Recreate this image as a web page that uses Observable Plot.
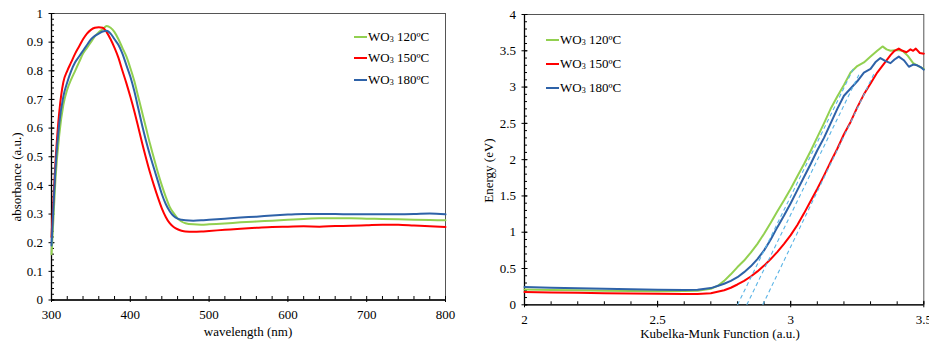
<!DOCTYPE html>
<html><head><meta charset="utf-8">
<script src="https://cdn.jsdelivr.net/npm/d3@7"></script>
<script src="https://cdn.jsdelivr.net/npm/@observablehq/plot@0.6"></script>
<style>
html,body{margin:0;padding:0;background:#fff;}
#wrap{position:relative;width:929px;height:341px;overflow:hidden;display:flex;}
#wrap svg{display:block;flex:none;}
.legend{position:absolute;font-family:"Liberation Serif","Times New Roman",serif;font-size:13px;color:#000;}
.legend .row{position:absolute;left:0;white-space:nowrap;display:flex;align-items:center;height:16px;}
.legend .sw{display:inline-block;width:13px;height:2px;margin-right:1px;}
.legend sub{font-size:8px;vertical-align:-1px;line-height:0;}
</style>
</head><body><div id="wrap"></div>
<script>
// ---------- data: left panel (absorbance spectra) ----------
const wl = [300,302,305,310,315,320,325,330,335,340,345,350,355,360,365,370,375,380,385,390,395,400,405,410,415,420,425,430,435,440,445,450,455,460,465,470,480,490,500,520,540,560,580,600,620,640,660,680,700,720,740,760,780,800];
const abs120 = [0.16,0.26,0.42,0.58,0.68,0.735,0.77,0.80,0.83,0.86,0.88,0.90,0.92,0.935,0.945,0.956,0.95,0.935,0.91,0.88,0.85,0.81,0.765,0.71,0.655,0.60,0.545,0.495,0.445,0.40,0.36,0.325,0.303,0.285,0.274,0.268,0.264,0.263,0.264,0.267,0.271,0.274,0.277,0.280,0.283,0.285,0.285,0.285,0.284,0.283,0.282,0.280,0.279,0.278];
const abs150 = [0.22,0.33,0.48,0.66,0.76,0.80,0.83,0.86,0.885,0.91,0.93,0.943,0.95,0.952,0.95,0.935,0.91,0.88,0.845,0.80,0.757,0.71,0.66,0.605,0.548,0.495,0.445,0.40,0.358,0.32,0.29,0.268,0.255,0.247,0.242,0.239,0.238,0.239,0.241,0.245,0.249,0.252,0.255,0.256,0.257,0.256,0.258,0.259,0.261,0.263,0.263,0.260,0.257,0.255];
const abs180 = [0.19,0.30,0.46,0.62,0.71,0.76,0.80,0.83,0.85,0.87,0.89,0.91,0.922,0.93,0.937,0.94,0.93,0.91,0.89,0.86,0.82,0.78,0.73,0.67,0.61,0.555,0.505,0.46,0.415,0.37,0.335,0.31,0.293,0.284,0.28,0.278,0.277,0.278,0.280,0.284,0.288,0.291,0.295,0.298,0.300,0.300,0.300,0.299,0.299,0.299,0.299,0.300,0.302,0.299];
const wlTicks = [300,400,500,600,700,800];
const absTicks = [0,0.1,0.2,0.3,0.4,0.5,0.6,0.7,0.8,0.9,1];

// ---------- data: right panel (Kubelka-Munk / energy) ----------
const km120 = [2.0,2.1,2.2,2.3,2.4,2.5,2.6,2.65,2.7,2.725,2.75,2.775,2.8,2.825,2.85,2.875,2.9,2.925,2.95,2.975,3.0,3.025,3.05,3.075,3.1,3.125,3.15,3.175,3.2,3.225,3.25,3.275,3.3,3.325,3.345,3.36,3.375,3.4,3.42,3.44,3.46,3.48,3.5];
const e120  = [0.21,0.205,0.2,0.195,0.19,0.188,0.19,0.195,0.22,0.26,0.33,0.42,0.52,0.61,0.72,0.84,0.98,1.13,1.29,1.44,1.60,1.77,1.94,2.12,2.31,2.50,2.70,2.87,3.03,3.20,3.29,3.34,3.42,3.50,3.56,3.52,3.50,3.51,3.50,3.43,3.33,3.29,3.25];
const km150 = [2.0,2.1,2.2,2.3,2.4,2.5,2.6,2.65,2.7,2.725,2.75,2.775,2.8,2.825,2.85,2.875,2.9,2.925,2.95,2.975,3.0,3.025,3.05,3.075,3.1,3.125,3.15,3.175,3.2,3.225,3.25,3.275,3.3,3.325,3.35,3.375,3.39,3.406,3.42,3.435,3.45,3.46,3.47,3.485,3.5];
const e150  = [0.175,0.17,0.165,0.16,0.155,0.152,0.15,0.15,0.16,0.18,0.20,0.235,0.28,0.33,0.39,0.46,0.54,0.63,0.73,0.84,0.96,1.10,1.26,1.43,1.60,1.78,1.97,2.15,2.35,2.52,2.72,2.90,3.05,3.20,3.32,3.44,3.50,3.53,3.50,3.48,3.52,3.50,3.53,3.47,3.46];
const km180 = [2.0,2.1,2.2,2.3,2.4,2.5,2.6,2.65,2.7,2.725,2.75,2.775,2.8,2.825,2.85,2.875,2.9,2.925,2.95,2.975,3.0,3.025,3.05,3.075,3.1,3.125,3.15,3.175,3.2,3.225,3.25,3.275,3.3,3.32,3.337,3.355,3.375,3.39,3.406,3.425,3.444,3.46,3.475,3.49,3.5];
const e180  = [0.245,0.235,0.228,0.22,0.213,0.207,0.205,0.208,0.23,0.26,0.29,0.33,0.38,0.45,0.53,0.63,0.75,0.90,1.07,1.23,1.40,1.58,1.76,1.94,2.13,2.30,2.50,2.70,2.88,2.98,3.08,3.20,3.25,3.35,3.40,3.36,3.33,3.38,3.42,3.37,3.28,3.31,3.30,3.27,3.24];
// tangent (band-gap) lines: x-intercept and upper end
const tanX0 = [2.80, 2.835, 2.895];
const tanX1 = [3.235, 3.26, 3.315];
const tanY1 = [3.25, 3.20, 3.20];
const kmTicks = [2, 2.5, 3, 3.5];
const eTicks = [0,0.5,1,1.5,2,2.5,3,3.5,4];

// ---------- legend / titles ----------
const seriesLabels = ["120ºC", "150ºC", "180ºC"];
const seriesColors = ["#92D050", "#FF0000", "#2E62A8"];
const dashColor = "#5AB4E6";
const leftTitles = {x: "wavelength (nm)", y: "absorbance (a.u.)"};
const rightTitles = {x: "Kubelka-Munk Function (a.u.)", y: "Energy (eV)"};

const font = "'Liberation Serif','Times New Roman',serif";
const minor = (a, b, s) => d3.range(Math.round(a / s), Math.round(b / s) + 1).map(i => +(i * s).toFixed(4));
const frameStroke = "#555";

// ---------- left chart ----------
const left = Plot.plot({
  width: 470, height: 341,
  marginLeft: 51, marginRight: 25, marginTop: 13, marginBottom: 41.5,
  style: {fontFamily: font, fontSize: "13px", color: "#000", background: "#fff", overflow: "hidden"},
  x: {domain: [300, 800]},
  y: {domain: [0, 1]},
  marks: [
    Plot.frame({stroke: frameStroke, strokeWidth: 1}),
    Plot.axisX({ticks: minor(300, 800, 20), tickSize: -3.5, tickFormat: () => "", label: null}),
    Plot.axisX({ticks: wlTicks, tickSize: 2.5, tickPadding: 7.5, fontSize: 13, label: null}),
    Plot.axisY({ticks: minor(0, 1, 0.02), tickSize: -3, tickFormat: () => "", label: null}),
    Plot.axisY({ticks: absTicks, tickSize: -3.5, tickFormat: () => "", label: null}),
    Plot.axisY({ticks: absTicks, tickSize: 2.5, tickPadding: 6, fontSize: 13, tickFormat: d => String(d), label: null}),
    Plot.ruleX([300], {stroke: "#000", strokeWidth: 1.3}),
    Plot.ruleY([0], {stroke: "#000", strokeWidth: 1.3}),
    Plot.line(wl, {x: wl, y: abs120, stroke: seriesColors[0], strokeWidth: 2, curve: "monotone-x"}),
    Plot.line(wl, {x: wl, y: abs150, stroke: seriesColors[1], strokeWidth: 2, curve: "monotone-x"}),
    Plot.line(wl, {x: wl, y: abs180, stroke: seriesColors[2], strokeWidth: 2, curve: "monotone-x"})
  ]
});

// ---------- right chart ----------
const right = Plot.plot({
  width: 459, height: 341,
  marginLeft: 54, marginRight: 5.7, marginTop: 14, marginBottom: 36.7,
  style: {fontFamily: font, fontSize: "13px", color: "#000", background: "#fff", overflow: "hidden"},
  x: {domain: [2, 3.5]},
  y: {domain: [0, 4]},
  marks: [
    Plot.frame({stroke: frameStroke, strokeWidth: 1}),
    Plot.axisX({ticks: minor(2, 3.5, 0.1), tickSize: -3, tickFormat: () => "", label: null}),
    Plot.axisX({ticks: kmTicks, tickSize: -3.5, tickFormat: () => "", label: null}),
    Plot.axisX({ticks: kmTicks, tickSize: 3, tickPadding: 6.5, fontSize: 13, tickFormat: d => String(d), label: null}),
    Plot.axisY({ticks: minor(0, 4, 0.1), tickSize: -3, tickFormat: () => "", label: null}),
    Plot.axisY({ticks: eTicks, tickSize: -3.5, tickFormat: () => "", label: null}),
    Plot.axisY({ticks: eTicks, tickSize: 2.5, tickPadding: 6, fontSize: 13, tickFormat: d => String(d), label: null}),
    Plot.ruleX([2], {stroke: "#000", strokeWidth: 1.3}),
    Plot.ruleY([0], {stroke: "#000", strokeWidth: 1.3}),
    Plot.line(km120, {x: km120, y: e120, stroke: seriesColors[0], strokeWidth: 2}),
    Plot.line(km150, {x: km150, y: e150, stroke: seriesColors[1], strokeWidth: 2}),
    Plot.line(km180, {x: km180, y: e180, stroke: seriesColors[2], strokeWidth: 2}),
    Plot.link(tanX0, {x1: tanX0, y1: tanX0.map(() => 0), x2: tanX1, y2: tanY1, stroke: dashColor, strokeWidth: 1.1, strokeDasharray: "4,3"})
  ]
});

// axis titles (positioned relative to each chart)
function addTitles(svg, titles, xPos, yPos) {
  const s = d3.select(svg);
  s.append("text").text(titles.x)
    .attr("x", xPos[0]).attr("y", xPos[1]).attr("dy", "0.32em")
    .attr("text-anchor", "middle").attr("font-size", 13).attr("font-family", font).attr("fill", "#000");
  s.append("text").text(titles.y)
    .attr("transform", `translate(${yPos[0]},${yPos[1]}) rotate(-90)`).attr("dy", "0.32em")
    .attr("text-anchor", "middle").attr("font-size", 13).attr("font-family", font).attr("fill", "#000");
}
addTitles(left, leftTitles, [248, 331.5], [17, 177]);
addTitles(right, rightTitles, [250, 334], [19.3, 170.5]);

const wrap = document.getElementById("wrap");
wrap.appendChild(left);
wrap.appendChild(right);

function addLegend(x, y0, step) {
  const lg = document.createElement("div");
  lg.className = "legend";
  lg.style.left = x + "px";
  lg.style.top = "0px";
  seriesLabels.forEach((lab, i) => {
    const row = document.createElement("div");
    row.className = "row";
    row.style.top = (y0 + i * step - 8) + "px";
    const sw = document.createElement("span");
    sw.className = "sw";
    sw.style.background = seriesColors[i];
    row.appendChild(sw);
    const t = document.createElement("span");
    t.innerHTML = "WO<sub>3</sub> " + lab;
    row.appendChild(t);
    lg.appendChild(row);
  });
  wrap.appendChild(lg);
}
addLegend(354, 36.5, 21.5);
addLegend(546, 39.5, 24);
</script></body></html>
